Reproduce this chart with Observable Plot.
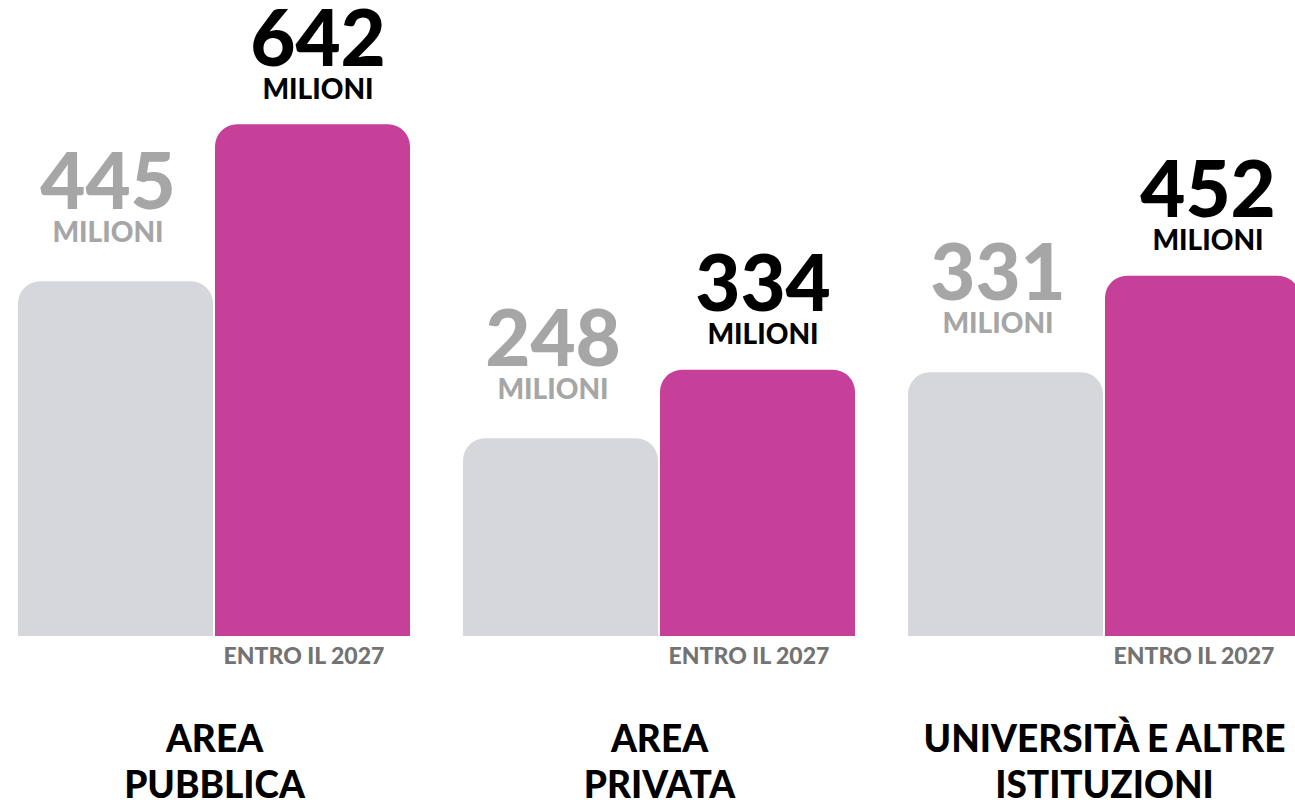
<!DOCTYPE html>
<html>
<head>
<meta charset="utf-8">
<script src="https://cdn.jsdelivr.net/npm/d3@7"></script>
<script src="https://cdn.jsdelivr.net/npm/@observablehq/plot@0.6"></script>
<style>
  html, body { margin: 0; padding: 0; background: #fff; overflow: hidden; }
  #chart svg { display: block; max-width: none; height: 800px; }
</style>
</head>
<body>
<div id="chart"></div>
<script>
const categories = ["AREA\nPUBBLICA", "AREA\nPRIVATA", "UNIVERSITÀ E ALTRE\nISTITUZIONI"];
const series = ["Oggi", "Entro il 2027"];
const valuesNow = [445, 248, 331];
const values2027 = [642, 334, 452];
const unitLabel = "MILIONI";
const periodLabel = "ENTRO IL 2027";

const data = [];
categories.forEach((c, i) => {
  data.push({cat: c, series: series[0], value: valuesNow[i]});
  data.push({cat: c, series: series[1], value: values2027[i]});
});
const nowData = data.filter(d => d.series === series[0]);
const futData = data.filter(d => d.series === series[1]);

const FONT = "Lato, 'Open Sans', sans-serif";

const chart = Plot.plot({
  width: 1301,
  height: 800,
  marginLeft: 16,
  marginRight: 0,
  marginTop: 0,
  marginBottom: 164,
  style: {fontFamily: FONT, background: "#fff"},
  fx: {domain: categories, paddingInner: 0.1156, paddingOuter: 0, axis: null},
  x: {domain: series, paddingInner: 0.0101, paddingOuter: 0, axis: null},
  y: {domain: [0, 798], axis: null},
  color: {domain: series, range: ["#d6d7dc", "#c63f98"]},
  marks: [
    Plot.barY(data, {fx: "cat", x: "series", y: "value", fill: "series", ry1: 22}),
    // value numbers
    Plot.text(nowData, {fx: "cat", x: "series", y: "value", text: d => String(d.value),
      lineAnchor: "bottom", dy: -73, dx: -8, fontSize: 78, fontWeight: 900, fill: "#a6a6a6"}),
    Plot.text(nowData, {fx: "cat", x: "series", y: "value", text: () => unitLabel,
      lineAnchor: "bottom", dy: -40, dx: -8, fontSize: 28, fontWeight: 900, fill: "#a6a6a6"}),
    Plot.text(futData, {fx: "cat", x: "series", y: "value", text: d => String(d.value),
      lineAnchor: "bottom", dy: -59, dx: 5, fontSize: 78, fontWeight: 900, fill: "#000"}),
    Plot.text(futData, {fx: "cat", x: "series", y: "value", text: () => unitLabel,
      lineAnchor: "bottom", dy: -26, dx: 5, fontSize: 28, fontWeight: 900, fill: "#000"}),
    // entro il 2027
    Plot.text(futData, {fx: "cat", x: "series", y: () => 0, text: () => periodLabel,
      lineAnchor: "bottom", dy: 27, dx: -9, fontSize: 23, fontWeight: 900, fill: "#737373"}),
    // category labels
    Plot.text(categories, {fx: d => d, frameAnchor: "bottom", text: d => d,
      lineAnchor: "bottom", dy: 161, fontSize: 37, fontWeight: 900, lineHeight: 1.22, fill: "#000"})
  ]
});
document.getElementById("chart").appendChild(chart);
</script>
</body>
</html>
